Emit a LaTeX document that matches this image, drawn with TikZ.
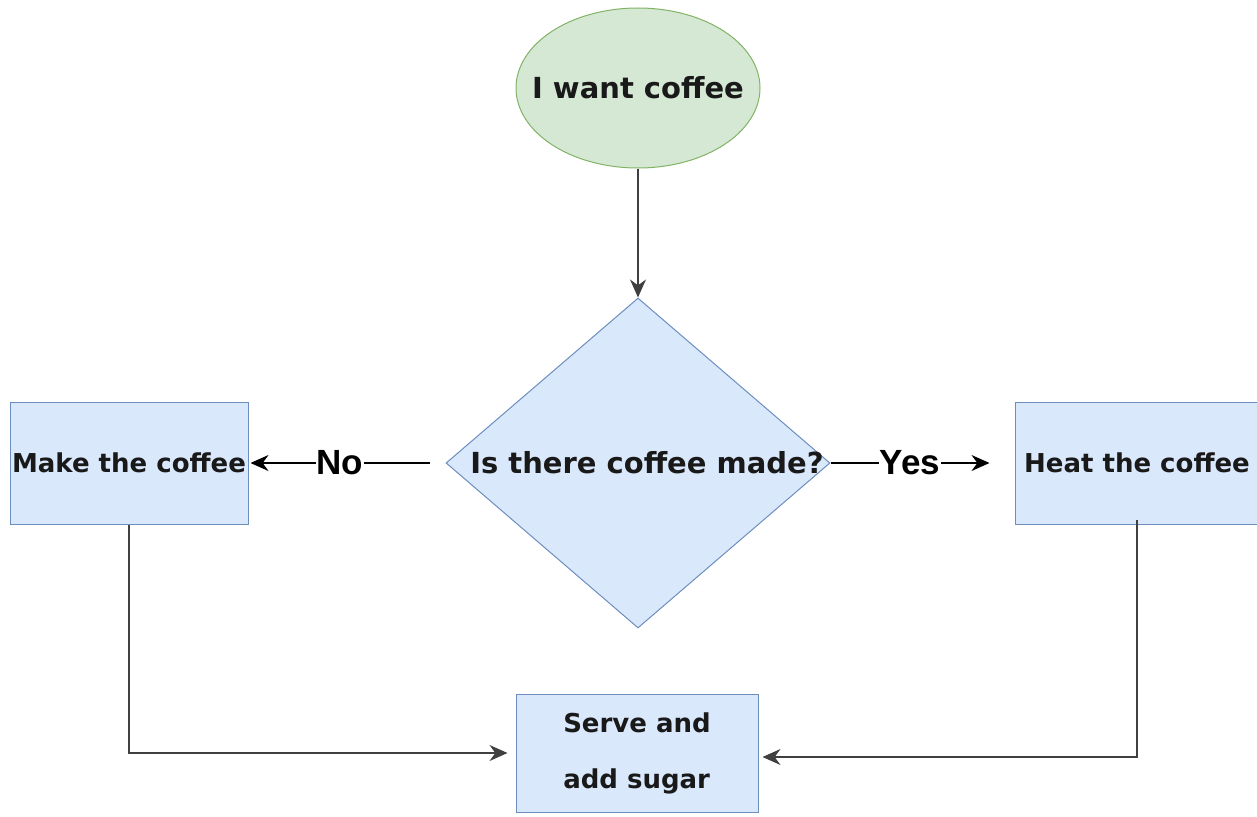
\documentclass[tikz,border=0pt]{standalone}
\usepackage{fontspec}
\setmainfont{DejaVu Sans}
\newfontfamily\labelfont{Liberation Sans}
\usetikzlibrary{shapes.geometric,arrows.meta}

\definecolor{startfill}{HTML}{D5E8D4}
\definecolor{startline}{HTML}{82B366}
\definecolor{boxfill}{HTML}{DAE8FC}
\definecolor{boxline}{HTML}{6C8EBF}

\begin{document}
\begin{tikzpicture}[x=1pt,y=-1pt,
  every node/.style={font=\bfseries\fontsize{26}{31}\selectfont,text=black!90},
  every label/.style={font=\bfseries\fontsize{29}{34}\selectfont,text=black!90},
  startnode/.style={ellipse,draw=startline,fill=startfill,line width=1pt,
    minimum width=244pt,minimum height=160pt,inner sep=0pt},
  decision/.style={diamond,draw=boxline,fill=boxfill,line width=1pt,
    minimum width=384pt,minimum height=330pt,inner sep=0pt},
  stepbox/.style={rectangle,draw=boxline,fill=boxfill,line width=1pt,inner sep=0pt},
  answer/.style={fill=white,inner sep=1pt,font=\labelfont\bfseries\fontsize{35}{38}\selectfont,text=black},
  link/.style={line width=1.3pt,-{Stealth[length=18pt,width=16pt]}}]
\useasboundingbox (0,0) rectangle (1257,816);

\node[startnode,label=center:I want coffee] (want) at (638,88) {};
\node[decision,label={[xshift=9pt]center:Is there coffee made?}] (made) at (638,463) {};
\node[stepbox,minimum width=238pt,minimum height=122pt] (make) at (129,463) {Make the coffee};
\node[stepbox,minimum width=244pt,minimum height=122pt] (heat) at (1137,463) {Heat the coffee};
\node[stepbox,minimum width=242pt,minimum height=118pt,align=left,
  font=\bfseries\fontsize{26}{56}\selectfont] (serve) at (637,753) {Serve and\\add sugar};

% connectors
\draw[link,black!75] (want) -- (made);
\draw[link] ([xshift=-16pt]made.west) -- node[answer] {No} ([xshift=2pt]make.east);
\draw[link] (made.east) -- node[answer] {Yes} ([xshift=-25pt]heat.west);
\draw[link,black!75] (make.south) |- ([xshift=-8pt]serve.west);
\draw[link,black!75] ([yshift=5pt]heat.south) |- ([xshift=4pt,yshift=-4pt]serve.east);
\end{tikzpicture}
\end{document}
